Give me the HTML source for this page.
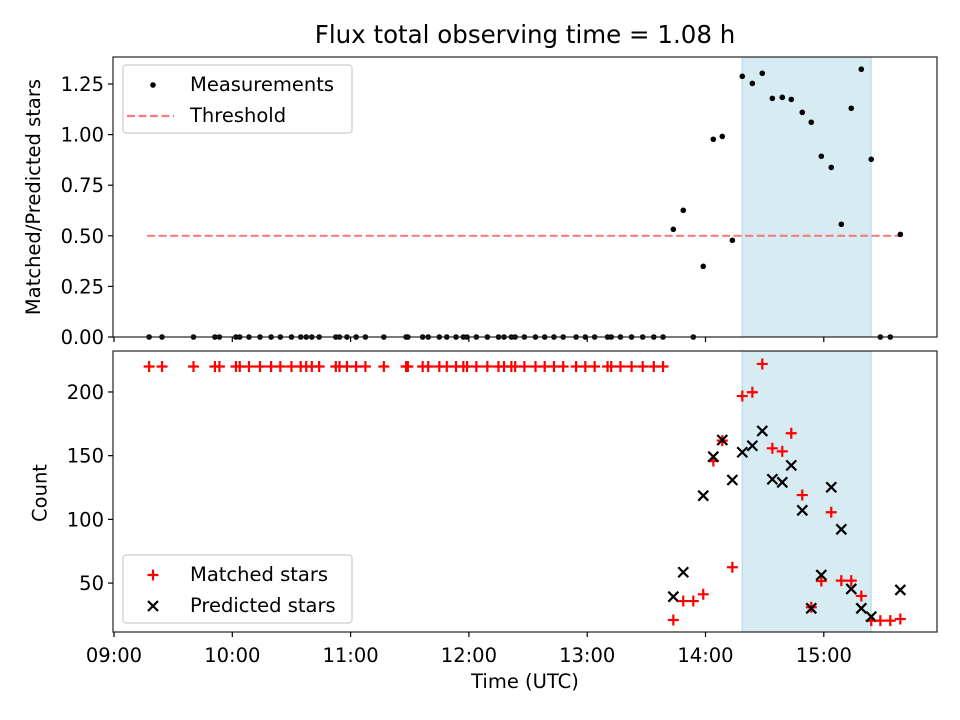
<!DOCTYPE html>
<html><head><meta charset="utf-8"><style>
body{margin:0;background:#fff}
svg{display:block;font-family:"DejaVu Sans","Liberation Sans",sans-serif}
</style></head><body>
<svg id="fig" width="960" height="720" viewBox="0 0 960 720">
<rect width="960" height="720" fill="#fff"/>
<text x="525" y="43" font-size="24.5" text-anchor="middle">Flux total observing time = 1.08 h</text>
<g id="topPanel"></g>
<g id="botPanel"></g>
<text x="525" y="688" font-size="19.5" text-anchor="middle">Time (UTC)</text>
<text transform="translate(40,197) rotate(-90)" font-size="19.5" text-anchor="middle">Matched/Predicted stars</text>
<text transform="translate(46.5,493) rotate(-90)" font-size="19.5" text-anchor="middle">Count</text>
</svg>
<script>
const earlyTimes=[9.297,9.406,9.672,9.853,9.891,10.031,10.063,10.141,10.234,10.328,10.406,10.5,10.578,10.625,10.672,10.734,10.875,10.906,10.969,11.047,11.125,11.281,11.469,11.484,11.609,11.656,11.75,11.813,11.891,11.953,11.984,12.063,12.156,12.25,12.297,12.359,12.391,12.469,12.563,12.641,12.719,12.797,12.906,12.984,13.063,13.172,13.203,13.281,13.375,13.469,13.563,13.641];
const earlyMatched=220;
const lateTimes=[13.728,13.812,13.897,13.981,14.066,14.142,14.227,14.311,14.396,14.480,14.565,14.649,14.725,14.818,14.894,14.979,15.063,15.148,15.232,15.317,15.401,15.478,15.562,15.647];
const lateRatio=[0.532,0.626,0,0.349,0.977,0.991,0.478,1.288,1.253,1.303,1.179,1.184,1.174,1.110,1.061,0.893,0.838,0.557,1.130,1.323,0.878,0,0,0.507];
const lateMatched=[21,35.9,35.9,41.2,145.8,161.8,62.4,196.8,199.8,222,155.8,153.4,167.6,119.1,31,51.6,105.6,51.9,51.9,39.9,20.5,20.5,20.5,21.8];
const latePredicted=[39.3,58.5,null,118.6,149.2,162.3,130.9,152.7,157.8,169.4,131.5,129.1,142.4,107.1,30.2,56.3,125.2,92.2,45.4,30.2,23.6,null,null,44.6];
const threshold=0.5;
const shadeStart=14.31, shadeEnd=15.40;
const ratioTicks=[0,0.25,0.5,0.75,1.0,1.25];
const countTicks=[50,100,150,200];
const timeTicks=[9,10,11,12,13,14,15];
const timeLabels=["09:00","10:00","11:00","12:00","13:00","14:00","15:00"];

const NS="http://www.w3.org/2000/svg";
const L=113,R=937,T1=57,B1=337,T2=351,B2=632;
const FS=19.5;
const xs=t=>114+(t-9)*118.3;
const yr=v=>337-v*202.4;
const yc=c=>632-(c-11.6)*1.274;
function mk(p,tag,a){const e=document.createElementNS(NS,tag);for(const k in a)e.setAttribute(k,a[k]);p.appendChild(e);return e;}
const gTop=document.getElementById('topPanel'),gBot=document.getElementById('botPanel');
const allT=earlyTimes.concat(lateTimes);
const allR=earlyTimes.map(()=>0).concat(lateRatio);
const allM=earlyTimes.map(()=>earlyMatched).concat(lateMatched);
const allP=earlyTimes.map(()=>null).concat(latePredicted);

[[gTop,T1,B1],[gBot,T2,B2]].forEach(([g,T,B],i)=>{
  const s=mk(g,'rect',{x:xs(shadeStart),y:T,width:xs(shadeEnd)-xs(shadeStart),height:B-T,fill:'#add8e6','fill-opacity':0.5,stroke:'#add8e6'});
  
  
});
const th=mk(gTop,'line',{x1:xs(allT[0])-2,x2:xs(lateTimes[lateTimes.length-1]),y1:yr(threshold),y2:yr(threshold),stroke:'#f08080','stroke-width':2.2,'stroke-dasharray':'8,3.5'});


allT.forEach((t,i)=>{
  const c=mk(gTop,'circle',{cx:xs(t),cy:yr(allR[i]),r:2.8,fill:'#000'});
  
  
});
allT.forEach((t,i)=>{
  const x=xs(t),y=yc(allM[i]),d=5.5;
  const p=mk(gBot,'path',{d:`M${x-d},${y}H${x+d}M${x},${y-d}V${y+d}`,stroke:'#f00','stroke-width':2.2,fill:'none'});
  
  
  if(allP[i]!==null){const yp=yc(allP[i]),e=5;
    const q=mk(gBot,'path',{d:`M${x-e},${yp-e}L${x+e},${yp+e}M${x-e},${yp+e}L${x+e},${yp-e}`,stroke:'#000','stroke-width':2.2,fill:'none'});
    
    }
});
[[gTop,T1,B1],[gBot,T2,B2]].forEach(([g,T,B],i)=>{
  const f=mk(g,'rect',{x:L,y:T,width:R-L,height:B-T,fill:'none',stroke:'#222','stroke-width':1.2});
  
  
  timeTicks.forEach((t,j)=>{
    mk(g,'line',{x1:xs(t),x2:xs(t),y1:B,y2:B+5,stroke:'#000','stroke-width':1.2});
    if(i===1){const tx=mk(g,'text',{x:xs(t),y:662,'font-size':FS,'text-anchor':'middle'});tx.textContent=timeLabels[j];
      
      }
  });
});
ratioTicks.forEach(v=>{
  mk(gTop,'line',{x1:L-5,x2:L,y1:yr(v),y2:yr(v),stroke:'#000','stroke-width':1.2});
  const tx=mk(gTop,'text',{x:L-9,y:yr(v)+7,'font-size':FS,'text-anchor':'end'});tx.textContent=v.toFixed(2);
  
  
});
countTicks.forEach(v=>{
  mk(gBot,'line',{x1:L-5,x2:L,y1:yc(v),y2:yc(v),stroke:'#000','stroke-width':1.2});
  const tx=mk(gBot,'text',{x:L-9,y:yc(v)+7,'font-size':FS,'text-anchor':'end'});tx.textContent=v;
  
  
});
function legend(g,y,items,name){
  const lg=mk(g,'g',{});
  
  
  mk(lg,'rect',{x:123,y:y,width:229,height:68,rx:3,fill:'#fff','fill-opacity':0.8,stroke:'#ccc','stroke-width':1.2});
  items.forEach((it,k)=>{
    const cy=y+20+k*31;
    it.draw(lg,153,cy);
    const tx=mk(lg,'text',{x:190,y:cy+6,'font-size':FS});tx.textContent=it.label;
    
    
  });
}
legend(gTop,65,[
 {label:'Measurements',draw:(g,x,y)=>mk(g,'circle',{cx:x,cy:y,r:2.8,fill:'#000'})},
 {label:'Threshold',draw:(g,x,y)=>mk(g,'line',{x1:x-26,x2:x+21,y1:y,y2:y,stroke:'#f08080','stroke-width':2.2,'stroke-dasharray':'8,3.5'})}
],'top-legend');
legend(gBot,555,[
 {label:'Matched stars',draw:(g,x,y)=>mk(g,'path',{d:`M${x-5.5},${y}H${x+5.5}M${x},${y-5.5}V${y+5.5}`,stroke:'#f00','stroke-width':2.2})},
 {label:'Predicted stars',draw:(g,x,y)=>mk(g,'path',{d:`M${x-5},${y-5}L${x+5},${y+5}M${x-5},${y+5}L${x+5},${y-5}`,stroke:'#000','stroke-width':2.2})}
],'bottom-legend');
</script>
</body></html>
